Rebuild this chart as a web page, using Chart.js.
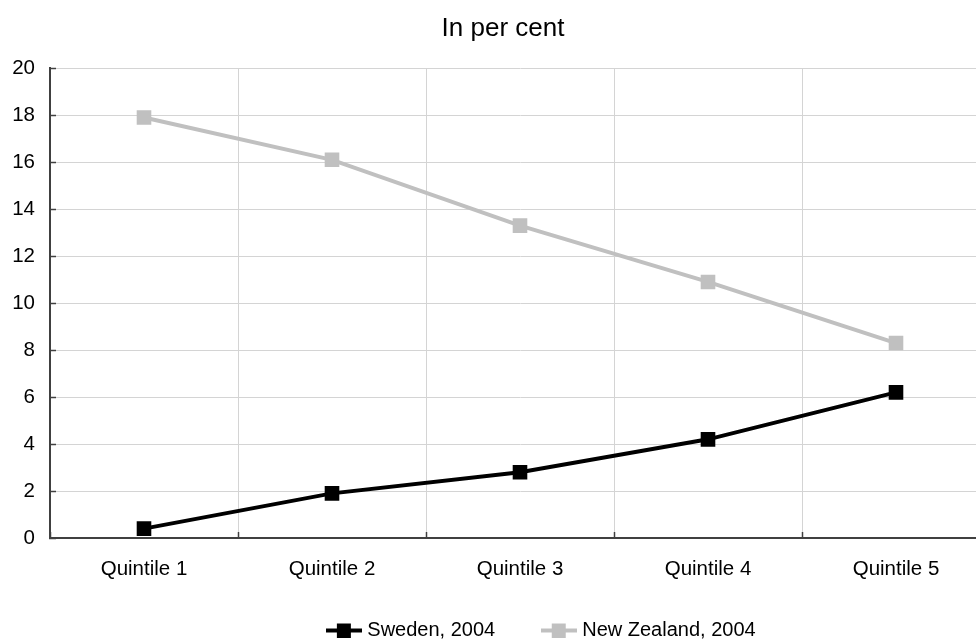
<!DOCTYPE html>
<html>
<head>
<meta charset="utf-8">
<script src="https://cdn.jsdelivr.net/npm/chart.js@4"></script>
<style>
  html, body { margin: 0; padding: 0; background: #fff; overflow: hidden; }
  #wrap { width: 976px; height: 639px; overflow: hidden; }
</style>
</head>
<body>
<div id="wrap"><canvas id="grafica" width="1006" height="639"></canvas></div>
<script>
let quintiles = ["Quintile 1", "Quintile 2", "Quintile 3", "Quintile 4", "Quintile 5"];
let sweden = [0.4, 1.9, 2.8, 4.2, 6.2];
let newZealand = [17.9, 16.1, 13.3, 10.9, 8.3];
let seriesNames = ["Sweden, 2004", "New Zealand, 2004"];
let yTicks = [0, 2, 4, 6, 8, 10, 12, 14, 16, 18, 20];

const FONT = "'Liberation Sans', Arial, sans-serif";

// small line + square marker used in the legend
function marcaLeyenda(color) {
    let c = document.createElement("canvas");
    c.width = 36;
    c.height = 15;
    let g = c.getContext("2d");
    g.strokeStyle = color;
    g.lineWidth = 4;
    g.beginPath();
    g.moveTo(0, 8);
    g.lineTo(36, 8);
    g.stroke();
    g.fillStyle = color;
    g.fillRect(11, 1, 14, 14);
    return c;
}

// nudges title and legend into place
const moverBloques = {
    id: "moverBloques",
    afterLayout(chart) {
        chart.titleBlock.left += 8;
        chart.titleBlock.right += 8;
        chart.legend.left += 48;
        chart.legend.right += 48;
        chart.legend.top -= 14;
        chart.legend.bottom -= 14;
    }
};

let ctx = document.getElementById("grafica").getContext("2d");

new Chart(ctx, {
    type: "line",
    data: {
        labels: quintiles,
        datasets: [{
            label: seriesNames[0],
            data: sweden,
            borderColor: "#000000",
            backgroundColor: "#000000",
            borderWidth: 4,
            pointStyle: "rect",
            pointRadius: 7.5,
            pointHoverRadius: 7.5,
            tension: 0
        }, {
            label: seriesNames[1],
            data: newZealand,
            borderColor: "#c0c0c0",
            backgroundColor: "#c0c0c0",
            borderWidth: 4,
            pointStyle: "rect",
            pointRadius: 7.5,
            pointHoverRadius: 7.5,
            tension: 0
        }]
    },
    plugins: [moverBloques],
    options: {
        responsive: false,
        animation: false,
        layout: { padding: { left: 0, right: 16, top: 9, bottom: -25 } },
        plugins: {
            title: {
                display: true,
                text: "In per cent",
                color: "#000",
                font: { family: FONT, size: 26, weight: "normal" },
                padding: { top: 4, bottom: 24 }
            },
            legend: {
                position: "bottom",
                labels: {
                    color: "#000",
                    font: { family: FONT, size: 20 },
                    usePointStyle: true,
                    pointStyleWidth: 27,
                    padding: 50,
                    generateLabels: chart => chart.data.datasets.map((ds, i) => ({
                        text: ds.label,
                        pointStyle: marcaLeyenda(ds.borderColor),
                        fillStyle: ds.borderColor,
                        strokeStyle: ds.borderColor,
                        lineWidth: 0,
                        datasetIndex: i,
                        hidden: false
                    }))
                }
            },
            tooltip: { enabled: false }
        },
        scales: {
            x: {
                offset: true,
                // short tick marks pointing into the plot
                grid: { offset: true, color: "#d4d4d4", lineWidth: 1, drawTicks: true, tickLength: -6, tickColor: "#404040", tickWidth: 1.5 },
                border: { color: "#404040", width: 2 },
                ticks: { color: "#000", font: { family: FONT, size: 20.5 }, padding: 25 },
                afterFit(scale) { scale.height = 46; }
            },
            y: {
                min: 0,
                max: 20,
                afterBuildTicks(scale) { scale.ticks = yTicks.map(v => ({ value: v })); },
                ticks: { color: "#000", font: { family: FONT, size: 20.5 }, padding: 21 },
                grid: { color: "#d4d4d4", lineWidth: 1, drawTicks: true, tickLength: -6, tickColor: "#404040", tickWidth: 1.5 },
                border: { color: "#404040", width: 2 },
                afterFit(scale) { scale.width = 50; }
            }
        }
    }
});
</script>
</body>
</html>
